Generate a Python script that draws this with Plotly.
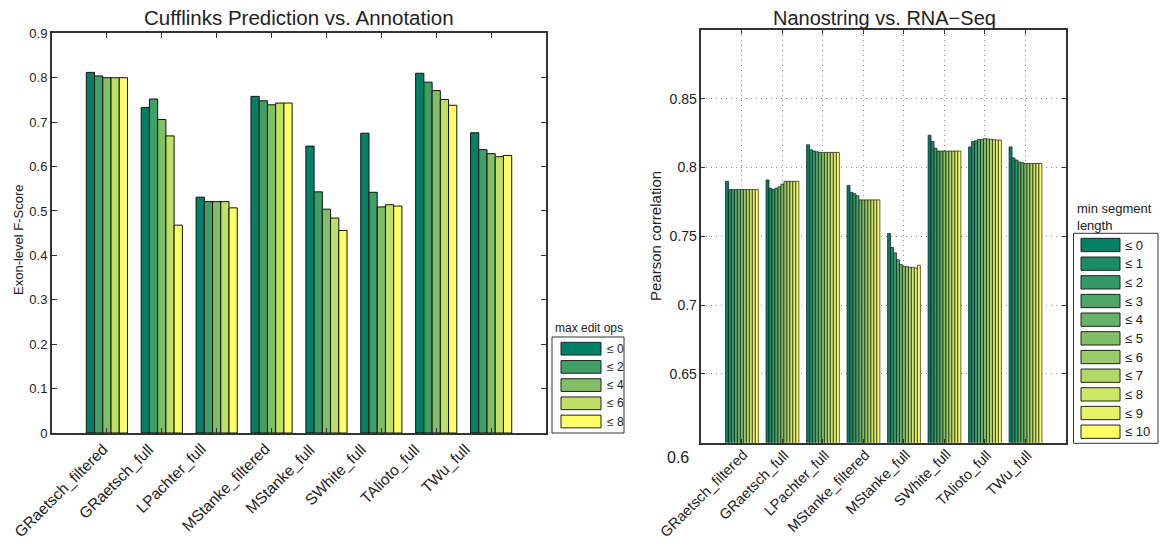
import plotly.graph_objects as go

W, H = 1160, 544

methods = ["GRaetsch_filtered", "GRaetsch_full", "LPachter_full", "MStanke_filtered",
           "MStanke_full", "SWhite_full", "TAlioto_full", "TWu_full"]

# Exon-level F-score per method, one list per "max edit ops" threshold
edit_labels = ["≤ 0", "≤ 2", "≤ 4", "≤ 6", "≤ 8"]
fscore_e0 = [0.812, 0.733, 0.531, 0.758, 0.646, 0.675, 0.810, 0.676]
fscore_e2 = [0.804, 0.752, 0.521, 0.748, 0.543, 0.542, 0.790, 0.638]
fscore_e4 = [0.800, 0.706, 0.521, 0.739, 0.504, 0.509, 0.771, 0.629]
fscore_e6 = [0.800, 0.669, 0.521, 0.743, 0.484, 0.514, 0.751, 0.622]
fscore_e8 = [0.800, 0.468, 0.507, 0.743, 0.456, 0.511, 0.738, 0.625]
fscore = [fscore_e0, fscore_e2, fscore_e4, fscore_e6, fscore_e8]

# Pearson correlation (Nanostring vs RNA-Seq) per method, one list per min segment length
seg_labels = ["≤ 0", "≤ 1", "≤ 2", "≤ 3", "≤ 4", "≤ 5", "≤ 6", "≤ 7", "≤ 8", "≤ 9", "≤ 10"]
corr_GRaetsch_filtered = [0.790, 0.784, 0.784, 0.784, 0.784, 0.784, 0.784, 0.784, 0.784, 0.784, 0.784]
corr_GRaetsch_full     = [0.791, 0.785, 0.784, 0.785, 0.786, 0.788, 0.790, 0.790, 0.790, 0.790, 0.790]
corr_LPachter_full     = [0.8165, 0.813, 0.812, 0.8115, 0.811, 0.811, 0.811, 0.811, 0.811, 0.811, 0.811]
corr_MStanke_filtered  = [0.787, 0.782, 0.781, 0.7795, 0.7765, 0.7765, 0.7765, 0.7765, 0.7765, 0.7765, 0.7765]
corr_MStanke_full      = [0.752, 0.742, 0.738, 0.733, 0.7295, 0.728, 0.728, 0.7275, 0.7275, 0.727, 0.729]
corr_SWhite_full       = [0.8235, 0.819, 0.814, 0.812, 0.812, 0.812, 0.812, 0.812, 0.812, 0.812, 0.812]
corr_TAlioto_full      = [0.815, 0.819, 0.8195, 0.8205, 0.8205, 0.821, 0.8208, 0.8205, 0.8203, 0.820, 0.820]
corr_TWu_full          = [0.815, 0.807, 0.8055, 0.804, 0.8035, 0.803, 0.803, 0.803, 0.803, 0.803, 0.803]
corr_by_method = [corr_GRaetsch_filtered, corr_GRaetsch_full, corr_LPachter_full,
                  corr_MStanke_filtered, corr_MStanke_full, corr_SWhite_full,
                  corr_TAlioto_full, corr_TWu_full]

corr_ticks = [0.65, 0.7, 0.75, 0.8, 0.85]
fscore_ticks = [0, 0.1, 0.2, 0.3, 0.4, 0.5, 0.6, 0.7, 0.8, 0.9]


def summer(n):
    """MATLAB-style 'summer' colormap sampled at n points."""
    out = []
    for i in range(n):
        t = i / (n - 1)
        r, g, b = t, 0.5 + 0.5 * t, 0.4
        out.append("rgb(%d,%d,%d)" % (round(r * 255), round(g * 255), round(b * 255)))
    return out


def px(x):
    return x / W


def py(y):
    return 1 - y / H


FONT = "Liberation Sans, Arial, sans-serif"
edit_colors = summer(len(edit_labels))
seg_colors = summer(len(seg_labels))

fig = go.Figure()

# Left panel: grouped bars, 5 per method
gw_l = 0.75
w_l = gw_l / len(edit_labels)
for i, (lab, vals) in enumerate(zip(edit_labels, fscore)):
    fig.add_trace(go.Bar(
        x=methods, y=vals, name=lab, xaxis="x", yaxis="y",
        width=w_l, offset=-gw_l / 2 + i * w_l,
        marker=dict(color=edit_colors[i], line=dict(color="#111111", width=1)),
        showlegend=False,
    ))

# Right panel: grouped bars, 11 per method
gw_r = 0.81
w_r = gw_r / len(seg_labels)
for j, lab in enumerate(seg_labels):
    vals = [row[j] for row in corr_by_method]
    fig.add_trace(go.Bar(
        x=methods, y=vals, name=lab, xaxis="x2", yaxis="y2",
        width=w_r, offset=-gw_r / 2 + j * w_r,
        marker=dict(color=seg_colors[j], line=dict(color="#1a1a1a", width=0.7)),
        showlegend=False,
    ))

axis_common = dict(showline=True, linecolor="#333333", mirror="ticks", ticks="inside",
                   tickcolor="#333333", zeroline=False, automargin=False)
grid_style = dict(showgrid=True, gridcolor="#8c8c8c", griddash="1px,4px", gridwidth=1)

fig.update_layout(
    width=W, height=H,
    margin=dict(l=0, r=0, t=0, b=0),
    paper_bgcolor="white", plot_bgcolor="white",
    barmode="overlay",
    font=dict(family=FONT, color="#222222"),
    xaxis=dict(domain=[px(52), px(546)], anchor="y", type="category",
               categoryorder="array", categoryarray=methods, range=[-1, 8],
               showticklabels=False, ticklen=5, linewidth=2,
               showgrid=False, **axis_common),
    yaxis=dict(domain=[py(433), py(33.3)], anchor="x", range=[0, 0.9],
               tickvals=fscore_ticks, ticktext=["0" if v == 0 else "%g" % v for v in fscore_ticks],
               tickfont=dict(size=13), ticklen=5, linewidth=2, showgrid=False, **axis_common),
    xaxis2=dict(domain=[px(701.4), px(1066)], anchor="y2", type="category",
                categoryorder="array", categoryarray=methods, range=[-1, 8],
                showticklabels=False, ticklen=4, linewidth=1.5,
                **grid_style, **axis_common),
    yaxis2=dict(domain=[py(442.7), py(30)], anchor="x2", range=[0.6, 0.9],
                tickvals=corr_ticks, ticktext=["%g" % v for v in corr_ticks],
                tickfont=dict(size=14), ticklen=4, linewidth=1.5,
                **grid_style, **axis_common),
)

ann = []
shapes = []

# Slanted method names under each panel
for m in methods:
    ann.append(dict(text=m, x=m, xref="x", y=py(438), yref="paper", textangle=-45,
                    xshift=-46, xanchor="center", yanchor="top", showarrow=False,
                    font=dict(size=15.5)))
    ann.append(dict(text=m, x=m, xref="x2", y=py(444), yref="paper", textangle=-45,
                    xshift=12, xanchor="right", yanchor="top", showarrow=False,
                    font=dict(size=14.5)))

# Titles and axis labels
ann.append(dict(text="Cufflinks Prediction vs. Annotation", x=px(299), y=py(18),
                xref="paper", yref="paper", showarrow=False, font=dict(size=20.5),
                xanchor="center", yanchor="middle"))
ann.append(dict(text="Nanostring vs. RNA−Seq", x=px(884), y=py(18),
                xref="paper", yref="paper", showarrow=False, font=dict(size=20),
                xanchor="center", yanchor="middle"))
ann.append(dict(text="Exon-level F-Score", x=px(18), y=py(240), textangle=-90,
                xref="paper", yref="paper", showarrow=False, font=dict(size=13),
                xanchor="center", yanchor="middle"))
ann.append(dict(text="Pearson correlation", x=px(655), y=py(236), textangle=-90,
                xref="paper", yref="paper", showarrow=False, font=dict(size=15),
                xanchor="center", yanchor="middle"))
# Lowest tick of the correlation axis, set apart below the axis
ann.append(dict(text="0.6", x=px(678), y=py(457.5), xref="paper", yref="paper",
                showarrow=False, font=dict(size=16), xanchor="center", yanchor="middle"))


def draw_legend(labels, colors, title_lines, box, sw_x, first_cy, pitch, sw_h, label_x,
                title_x, title_y0, title_dy, fsize, tsize):
    x0, y0, x1, y1 = box
    shapes.append(dict(type="rect", xref="paper", yref="paper",
                       x0=px(x0), x1=px(x1), y0=py(y1), y1=py(y0),
                       line=dict(color="#333333", width=1), fillcolor="white", layer="above"))
    for k, t in enumerate(title_lines):
        ann.append(dict(text=t, x=px(title_x), y=py(title_y0 + k * title_dy),
                        xref="paper", yref="paper", showarrow=False,
                        font=dict(size=tsize), xanchor="left", yanchor="middle"))
    for i, (lab, col) in enumerate(zip(labels, colors)):
        cy = first_cy + i * pitch
        shapes.append(dict(type="rect", xref="paper", yref="paper",
                           x0=px(sw_x[0]), x1=px(sw_x[1]),
                           y0=py(cy + sw_h / 2), y1=py(cy - sw_h / 2),
                           line=dict(color="#222222", width=1), fillcolor=col, layer="above"))
        ann.append(dict(text=lab, x=px(label_x), y=py(cy), xref="paper", yref="paper",
                        showarrow=False, font=dict(size=fsize), xanchor="left",
                        yanchor="middle"))


draw_legend(edit_labels, edit_colors, ["max edit ops"], (552, 337, 624, 433),
            (561, 601), 348.7, 18.2, 12.7, 605, 553, 328, 0, 12, 12)
draw_legend(seg_labels, seg_colors, ["min segment", "length"], (1073.5, 233.3, 1158, 443.3),
            (1081, 1120), 245, 18.67, 13.3, 1123, 1075, 208, 17, 13, 13)

fig.update_layout(annotations=ann, shapes=shapes)
fig.write_html("out.html")
